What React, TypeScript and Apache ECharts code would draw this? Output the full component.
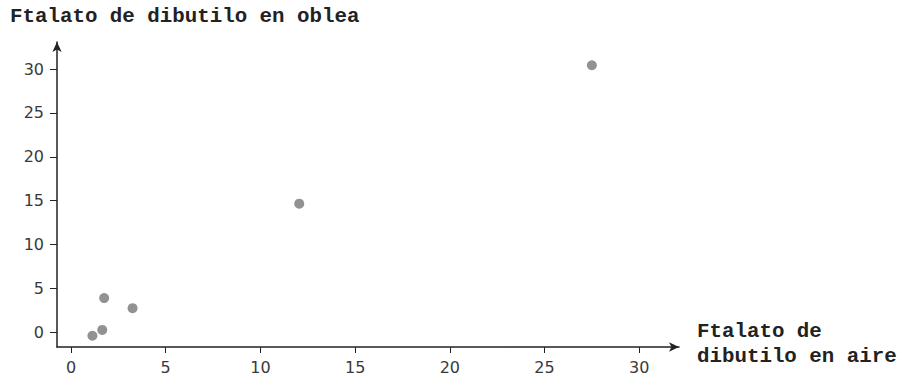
import React, { useEffect, useRef } from "react";
import * as echarts from "echarts";

const airValues = [27.5, 12.05, 1.75, 3.25, 1.65, 1.13];
const waferValues = [30.45, 14.65, 3.88, 2.73, 0.25, -0.42];
const xTicks = [0, 5, 10, 15, 20, 25, 30];
const yTicks = [0, 5, 10, 15, 20, 25, 30];
const title = "Ftalato de dibutilo en oblea";
const xNameLines = ["Ftalato de", "dibutilo en aire"];

export default function App() {
  const ref = useRef<HTMLDivElement>(null);
  useEffect(() => {
    if (!ref.current) return;
    const chart = echarts.init(ref.current, null, { renderer: "svg" });
    const mono = "'Courier New', 'Liberation Mono', monospace";
    const sans = "'DejaVu Sans', sans-serif";
    const axisColor = "#222";
    chart.setOption({
      animation: false,
      backgroundColor: "#fff",
      grid: { left: 57, right: 221, top: 42, bottom: 27, containLabel: false },
      xAxis: {
        type: "value",
        min: -0.74,
        max: 32.1,
        splitLine: { show: false },
        axisLine: {
          show: true,
          onZero: false,
          symbol: ["none", "arrow"],
          symbolSize: [7, 10],
          lineStyle: { color: axisColor, width: 1.5 },
        },
        axisTick: {
          show: true,
          length: 6,
          customValues: xTicks,
          lineStyle: { color: axisColor, width: 1 },
        },
        axisLabel: {
          customValues: xTicks,
          margin: 12,
          fontFamily: sans,
          fontSize: 16,
          color: "#3a3a3a",
        },
      },
      yAxis: {
        type: "value",
        min: -1.7,
        max: 33.1,
        splitLine: { show: false },
        axisLine: {
          show: true,
          onZero: false,
          symbol: ["none", "arrow"],
          symbolSize: [7, 10],
          lineStyle: { color: axisColor, width: 1.5 },
        },
        axisTick: {
          show: true,
          length: 7,
          customValues: yTicks,
          lineStyle: { color: axisColor, width: 1 },
        },
        axisLabel: {
          customValues: yTicks,
          margin: 13,
          fontFamily: sans,
          fontSize: 16,
          color: "#3a3a3a",
        },
      },
      series: [
        {
          type: "scatter",
          symbol: "circle",
          symbolSize: 10,
          itemStyle: { color: "#77777b" },
          data: airValues.map((x, i) => [x, waferValues[i]]),
        },
      ],
      graphic: [
        {
          type: "text",
          left: 10,
          top: 6,
          style: {
            text: title,
            font: `bold 20.8px ${mono}`,
            fill: "#222",
          },
        },
        {
          type: "text",
          left: 697,
          top: 319,
          style: {
            text: xNameLines.join("\n"),
            font: `bold 20.8px ${mono}`,
            lineHeight: 25,
            fill: "#222",
          },
        },
      ],
    });
    return () => chart.dispose();
  }, []);
  return (
    <div
      ref={ref}
      style={{ position: "absolute", left: 0, top: 0, width: 900, height: 375 }}
    />
  );
}
